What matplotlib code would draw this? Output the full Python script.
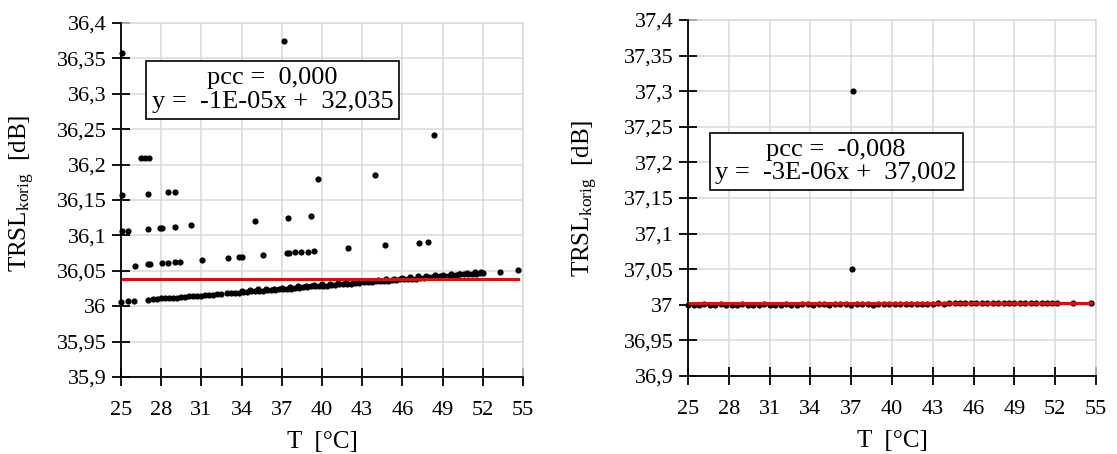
import matplotlib
matplotlib.use("Agg")
import matplotlib.pyplot as plt
import matplotlib.ticker as ticker

plt.rcParams['font.family'] = ['Liberation Serif', 'DejaVu Serif']
plt.rcParams['mathtext.fontset'] = 'custom'
plt.rcParams['mathtext.rm'] = 'Liberation Serif'
plt.rcParams['mathtext.it'] = 'Liberation Serif:italic'

# ---- left panel data ----
band_T_left = [25.0, 25.5, 26.0, 27.0, 27.4, 27.7, 28.0, 28.3, 28.6, 28.9, 29.2, 29.5, 29.8,
               30.1, 30.4, 30.7, 31.0, 31.3, 31.6, 31.9, 32.2, 32.5, 32.9, 33.2, 33.5, 33.8, 34.1,
               34.4, 34.7, 35.0, 35.3, 35.6, 35.9, 36.2, 36.5, 36.8, 37.1, 37.4, 37.7, 38.0,
               38.3, 38.6, 38.9, 39.2, 39.5, 39.8, 40.1, 40.4, 40.7, 41.0, 41.3, 41.6, 41.9,
               42.2, 42.5, 42.8, 43.1, 43.4, 43.7, 44.0, 44.3, 44.6, 44.9, 45.2, 45.5, 45.8,
               46.1, 46.4, 46.7, 47.0, 47.3, 47.6, 47.9, 48.2, 48.5, 48.8, 49.1, 49.4, 49.7,
               50.0, 50.3, 50.6, 50.9, 51.2, 51.5, 51.8, 52.0, 53.3, 54.6]
band_y_left = [36.006, 36.007, 36.008, 36.009, 36.010, 36.010, 36.011, 36.011, 36.011, 36.012,
               36.012, 36.013, 36.013, 36.014, 36.014, 36.015, 36.015, 36.016, 36.016, 36.016,
               36.017, 36.017, 36.018, 36.018, 36.019, 36.019, 36.020, 36.020, 36.021, 36.021,
               36.022, 36.022, 36.023, 36.023, 36.023, 36.024, 36.024, 36.025, 36.025, 36.026,
               36.026, 36.027, 36.027, 36.028, 36.028, 36.028, 36.029, 36.029, 36.030, 36.030,
               36.031, 36.031, 36.032, 36.032, 36.033, 36.033, 36.034, 36.034, 36.034, 36.035,
               36.035, 36.036, 36.036, 36.037, 36.037, 36.038, 36.038, 36.039, 36.039, 36.039,
               36.040, 36.040, 36.041, 36.041, 36.042, 36.042, 36.043, 36.043, 36.044, 36.044,
               36.045, 36.045, 36.045, 36.046, 36.046, 36.047, 36.047, 36.049, 36.051]
# upper edge of the dense band (it gets thicker past ~34 °C)
band2_T_left = [34.0, 34.6, 35.2, 35.8, 36.4, 37.0, 37.6, 38.2, 38.8, 39.4, 40.0, 40.6, 41.2,
                41.8, 42.4, 43.0, 43.6, 44.2, 44.8, 45.4, 46.0, 46.6, 47.2, 47.8, 48.4, 49.0,
                49.6, 50.2, 50.8, 51.4, 51.9]
band2_y_left = [36.022, 36.023, 36.024, 36.024, 36.025, 36.026, 36.027, 36.028, 36.029, 36.030,
                36.031, 36.032, 36.033, 36.034, 36.034, 36.035, 36.036, 36.037, 36.038, 36.039,
                36.040, 36.041, 36.042, 36.043, 36.044, 36.044, 36.045, 36.046, 36.047, 36.048,
                36.049]
out_T_left = [25.05, 37.14, 48.38, 26.5, 26.8, 27.1, 27.04, 28.48, 29.05, 39.7, 43.98, 25.05,
              25.05, 25.5, 27.04, 27.9, 28.06, 29.03, 30.2, 35.0, 37.46, 39.2, 26.02, 27.04,
              27.2, 28.04, 28.48, 29.03, 29.4, 31.02, 33.0, 33.8, 34.05, 35.6, 37.37, 37.56,
              37.99, 38.43, 38.98, 39.43, 41.96, 44.72, 47.27, 47.89]
out_y_left = [36.357, 36.375, 36.242, 36.210, 36.210, 36.210, 36.159, 36.162, 36.162, 36.179,
              36.185, 36.157, 36.106, 36.106, 36.109, 36.110, 36.110, 36.112, 36.114, 36.121,
              36.125, 36.128, 36.057, 36.059, 36.059, 36.061, 36.061, 36.063, 36.063, 36.065,
              36.068, 36.069, 36.069, 36.072, 36.075, 36.075, 36.076, 36.077, 36.077, 36.078,
              36.082, 36.086, 36.089, 36.090]
trend_T_left = [25.0, 54.6]
trend_y_left = [36.038, 36.038]

# ---- right panel data ----
band_T_right = [25.0, 25.4, 25.8, 26.2, 26.6, 27.0, 27.4, 27.8, 28.2, 28.6, 29.0, 29.4, 29.8,
                30.2, 30.6, 31.0, 31.4, 31.8, 32.2, 32.6, 33.0, 33.4, 33.8, 34.2, 34.6, 35.0,
                35.4, 35.8, 36.2, 36.6, 37.0, 37.4, 37.8, 38.2, 38.6, 39.0, 39.4, 39.8, 40.2,
                40.6, 41.0, 41.4, 41.8, 42.2, 42.6, 43.0, 43.4, 43.8, 44.2, 44.6, 45.0, 45.4,
                45.8, 46.2, 46.6, 47.0, 47.4, 47.8, 48.2, 48.6, 49.0, 49.4, 49.8, 50.2, 50.6,
                51.0, 51.4, 51.8, 52.1, 53.3, 54.6]
band_y_right = [37.000, 37.000, 37.000, 37.001, 37.000, 37.000, 37.001, 37.000, 37.000, 37.000,
                37.001, 37.000, 37.000, 37.000, 37.001, 37.000, 37.000, 37.000, 37.001, 37.000,
                37.000, 37.001, 37.001, 37.000, 37.001, 37.001, 37.000, 37.001, 37.001, 37.001,
                37.000, 37.001, 37.001, 37.001, 37.000, 37.001, 37.001, 37.001, 37.001, 37.001,
                37.001, 37.001, 37.001, 37.001, 37.001, 37.001, 37.002, 37.001, 37.002, 37.002,
                37.002, 37.002, 37.002, 37.002, 37.002, 37.002, 37.002, 37.002, 37.002, 37.002,
                37.002, 37.002, 37.002, 37.002, 37.002, 37.002, 37.002, 37.002, 37.002, 37.002,
                37.002]
out_T_right = [37.15, 37.04]
out_y_right = [37.300, 37.050]
trend_T_right = [25.0, 54.6]
trend_y_right = [37.002, 37.002]

x_ticks = [25, 28, 31, 34, 37, 40, 43, 46, 49, 52, 55]
box_left = "pcc =  0,000\ny =  -1E-05x +  32,035"
box_right = "pcc =  -0,008\ny =  -3E-06x +  37,002"

GRID = '#d9d9d9'


def comma_fmt(v, pos):
    return ('%g' % round(v, 3)).replace('.', ',')


def style_axis(ax, ylo, yhi):
    ax.set_xlim(25, 55)
    ax.set_ylim(ylo, yhi)
    ax.set_xticks(x_ticks)
    ax.yaxis.set_major_locator(ticker.MultipleLocator(0.05))
    ax.yaxis.set_major_formatter(ticker.FuncFormatter(comma_fmt))
    ax.grid(True, color=GRID, linewidth=1.1)
    ax.set_axisbelow(True)
    for s in ['top', 'right']:
        ax.spines[s].set_color(GRID)
        ax.spines[s].set_linewidth(1.1)
    for s in ['left', 'bottom']:
        ax.spines[s].set_color('black')
        ax.spines[s].set_linewidth(1.3)
        ax.spines[s].set_zorder(5)
    ax.tick_params(direction='inout', length=13, width=1.3, labelsize=16, pad=4)
    ax.tick_params(axis='x', pad=11)
    ax.set_xlabel("T  [°C]", fontsize=18, labelpad=8)
    ax.set_ylabel(r"TRSL$_{\mathrm{korig}}$  [dB]", fontsize=18)


fig = plt.figure(figsize=(11.17, 4.54), dpi=100)
ax1 = fig.add_axes([0.1083, 0.1696, 0.3599, 0.7797])
ax2 = fig.add_axes([0.6160, 0.1718, 0.3652, 0.7842])

ax1.scatter(band_T_left + band2_T_left + out_T_left,
            band_y_left + band2_y_left + out_y_left,
            s=20, color='black', linewidths=0, zorder=3, clip_on=False)
ax1.plot(trend_T_left, trend_y_left, color='#ff0000', linewidth=2.2, zorder=4)
style_axis(ax1, 35.9, 36.4)
ax1.yaxis.set_label_coords(-0.21, 0.52)
ax1.text(0.377, 0.811, box_left, transform=ax1.transAxes, ha='center', va='center',
         multialignment='center', fontsize=19, linespacing=1.1, zorder=6,
         bbox=dict(boxstyle='square,pad=0.22', fc='white', ec='black', lw=1.2))

ax2.scatter(band_T_right + out_T_right, band_y_right + out_y_right, s=20, color='black',
            linewidths=0, zorder=3, clip_on=False)
ax2.plot(trend_T_right, trend_y_right, color='#ff0000', linewidth=2.2, zorder=4)
style_axis(ax2, 36.9, 37.4)
ax2.yaxis.set_label_coords(-0.215, 0.5)
ax2.text(0.363, 0.6025, box_right, transform=ax2.transAxes, ha='center', va='center',
         multialignment='center', fontsize=19, linespacing=1.1, zorder=6,
         bbox=dict(boxstyle='square,pad=0.22', fc='white', ec='black', lw=1.2))

fig.savefig("out.png", dpi=100, facecolor='white')
